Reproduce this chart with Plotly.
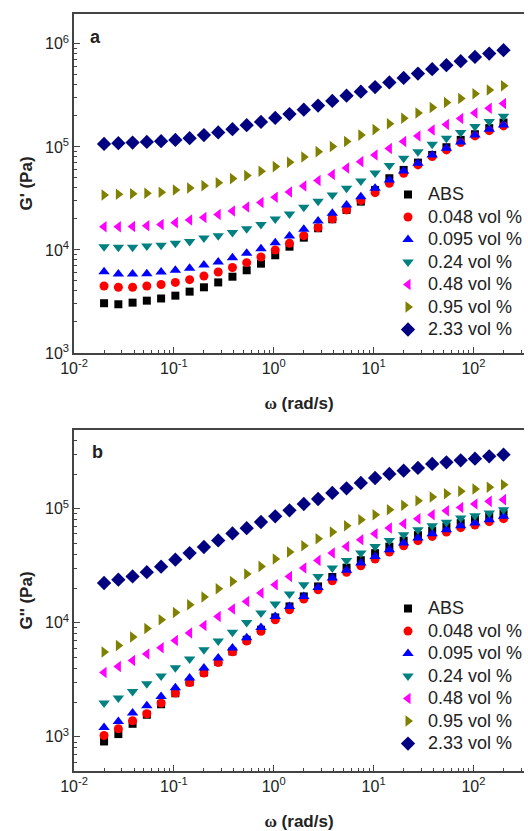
import plotly.graph_objects as go

omega = [0.02, 0.0278, 0.0386, 0.0536, 0.0745, 0.1035, 0.1438, 0.2, 0.278, 0.386,
         0.536, 0.745, 1.035, 1.438, 2.0, 2.78, 3.86, 5.36, 7.45, 10.35,
         14.38, 20.0, 27.8, 38.6, 53.6, 74.5, 103.5, 143.8, 200.0]

series_names = ["ABS", "0.048 vol %", "0.095 vol %", "0.24 vol %", "0.48 vol %", "0.95 vol %", "2.33 vol %"]

# Storage modulus G' (Pa)
g1_abs = [3040, 2970, 3080, 3220, 3380, 3600, 3940, 4340, 4840, 5500, 6350, 7360, 8880, 10760, 13160,
          16240, 19860, 24450, 29440, 38230, 49670, 59800, 70400, 83600, 99300, 117000, 132800, 152000, 172200]
g1_0048 = [4470, 4340, 4340, 4470, 4620, 4840, 5150, 5590, 6110, 6760, 7530, 8550, 10000, 11610, 13770,
           16460, 20000, 24450, 30260, 35980, 44430, 55560, 66860, 80500, 93500, 110100, 127900, 143900, 159900]
g1_0095 = [6150, 5850, 5850, 5890, 6110, 6350, 6640, 7150, 7650, 8400, 9290, 10290, 11770, 13670, 15880,
           19120, 22710, 27350, 32920, 39720, 47830, 58470, 69480, 83600, 97100, 111900, 130800, 148500, 163500]
g1_024 = [10760, 10620, 10620, 10930, 11110, 11610, 12090, 13080, 13740, 14790, 16100, 17690, 20000, 22370, 25980,
          29700, 34200, 39720, 46770, 55950, 66100, 77640, 90000, 106400, 121400, 137700, 157400, 176000, 198600]
g1_048 = [16830, 16830, 16900, 17180, 17690, 18410, 19550, 20680, 22120, 23910, 26160, 28920, 32490, 36560, 41800,
          47300, 54080, 62520, 71980, 83600, 96700, 112600, 127900, 146200, 165300, 189100, 213800, 237600, 264400]
g1_095 = [34200, 34740, 35130, 35520, 36310, 38230, 39990, 42090, 45000, 49250, 52650, 58070, 64400, 71030, 79980,
          90000, 100700, 113000, 130200, 147200, 168000, 190000, 213800, 241800, 270400, 295600, 328500, 357500, 392800]
g1_233 = [107000, 108600, 110100, 111800, 113600, 117000, 121700, 130200, 138300, 148500, 162400, 174900, 191200,
          208100, 229700, 251800, 279700, 314100, 343500, 380700, 422700, 467700, 515000, 567600, 621100, 679200,
          747800, 805000, 868500]

# Loss modulus G'' (Pa)
g2_abs = [910, 1056, 1300, 1560, 1928, 2408, 3006, 3665, 4547, 5600, 7096, 8683, 11130, 13900, 17010,
          20810, 25170, 30380, 35330, 40700, 46420, 52390, 58560, 64120, 69520, 74630, 80080, 85100, 90370]
g2_0048 = [1026, 1175, 1381, 1591, 1975, 2417, 2988, 3620, 4484, 5567, 6910, 8422, 10620, 13000, 16140,
           19480, 23360, 27730, 31620, 36220, 41690, 47350, 52390, 57150, 62460, 68130, 71940, 76910, 81690]
g2_0095 = [1206, 1362, 1614, 1870, 2257, 2692, 3273, 4005, 4900, 5998, 7385, 9095, 11360, 13900, 17010,
           20400, 24660, 28870, 33400, 38150, 43660, 50040, 55340, 60390, 65430, 70960, 74920, 80080, 85620]
g2_024 = [1975, 2185, 2497, 2917, 3407, 4030, 4813, 5796, 6910, 8255, 10060, 12160, 14590, 17850, 21540,
          25480, 30190, 35130, 40840, 46690, 52720, 59130, 65430, 70960, 75830, 82830, 86820, 91660, 98000]
g2_048 = [3665, 4138, 4670, 5315, 6036, 6993, 8121, 9450, 11360, 13190, 15380, 18220, 21540, 25480, 30190,
          35200, 40840, 46690, 53460, 60390, 67720, 73840, 81690, 88580, 96000, 102600, 109900, 115900, 120000]
g2_095 = [5534, 6320, 7490, 8913, 10620, 12310, 14380, 16800, 19880, 23030, 26750, 31190, 36220, 41690, 47350,
          54560, 62460, 70960, 80080, 88580, 98000, 106900, 117500, 126700, 135400, 141900, 148900, 153800, 162400]
g2_233 = [22300, 23850, 25480, 27730, 30980, 35700, 40840, 46130, 52720, 60610, 67450, 76440, 85620, 96670,
          109900, 121600, 137300, 150700, 168000, 185800, 201500, 215400, 227600, 246600, 254800, 265300,
          274500, 287700, 297700]

x_tickvals = [0.01, 0.1, 1, 10, 100]
x_ticktext = ["10<sup>-2</sup>", "10<sup>-1</sup>", "10<sup>0</sup>", "10<sup>1</sup>", "10<sup>2</sup>"]
y1_tickvals = [1e3, 1e4, 1e5, 1e6]
y1_ticktext = ["10<sup>3</sup>", "10<sup>4</sup>", "10<sup>5</sup>", "10<sup>6</sup>"]
y2_tickvals = [1e3, 1e4, 1e5]
y2_ticktext = ["10<sup>3</sup>", "10<sup>4</sup>", "10<sup>5</sup>"]

top_data = [g1_abs, g1_0048, g1_0095, g1_024, g1_048, g1_095, g1_233]
bot_data = [g2_abs, g2_0048, g2_0095, g2_024, g2_048, g2_095, g2_233]

colors = ["#000000", "#FF0000", "#0000FF", "#008080", "#FF00FF", "#808000", "#000080"]
symbols = ["square", "circle", "triangle-up", "triangle-down", "triangle-left", "triangle-right", "diamond"]
sizes = [8, 9, 10, 10, 10, 10, 11]

FONT = "Liberation Sans, Arial, sans-serif"


def legend_label(name):
    return "<span style='font-size:18px'>" + name + "</span>"


fig = go.Figure()
for name, ys, c, s, sz in zip(series_names, top_data, colors, symbols, sizes):
    fig.add_trace(go.Scatter(x=omega, y=ys, mode="markers", name=legend_label(name),
                             marker=dict(color=c, symbol=s, size=sz, line=dict(width=0)),
                             xaxis="x", yaxis="y", legend="legend"))
for name, ys, c, s, sz in zip(series_names, bot_data, colors, symbols, sizes):
    fig.add_trace(go.Scatter(x=omega, y=ys, mode="markers", name=legend_label(name),
                             marker=dict(color=c, symbol=s, size=sz, line=dict(width=0)),
                             xaxis="x2", yaxis="y2", legend="legend2"))

minor_vals = [m * 10.0 ** e for e in range(-3, 7) for m in range(2, 10)]

axcol = "#444444"
minor = dict(ticks="inside", ticklen=3, tickwidth=1, tickcolor=axcol, tickmode="array", tickvals=minor_vals)
common_x = dict(type="log", range=[-2, 2.506], tickmode="array", tickvals=x_tickvals, ticktext=x_ticktext,
                showline=True, linecolor=axcol, linewidth=1.5, mirror=True,
                ticks="inside", ticklen=6, tickwidth=1.2, tickcolor=axcol,
                minor=minor,
                showgrid=False, zeroline=False,
                tickfont=dict(family=FONT, size=16, color="#222"),
                title=dict(text="<b><span style='font-family:Liberation Serif'>ω</span> (rad/s)</b>",
                           font=dict(family=FONT, size=17, color="#222"), standoff=21))
common_y = dict(type="log", tickmode="array",
                showline=True, linecolor=axcol, linewidth=1.5, mirror=False,
                ticks="inside", ticklen=6, tickwidth=1.2, tickcolor=axcol,
                minor=minor,
                showgrid=False, zeroline=False,
                tickfont=dict(family=FONT, size=16, color="#222"))

legend_common = dict(xanchor="left", yanchor="top", bgcolor="rgba(0,0,0,0)",
                     font=dict(family=FONT, size=15, color="#222"), tracegroupgap=0, itemwidth=30)

fig.update_layout(
    width=528, height=831,
    margin=dict(l=74, r=0, t=14, b=60),
    paper_bgcolor="white", plot_bgcolor="white",
    font=dict(family=FONT, size=16, color="#222"),
    xaxis=dict(common_x, domain=[0, 1], anchor="y"),
    yaxis=dict(common_y, domain=[0.5522, 1], range=[3, 6.29], anchor="x",
               tickvals=y1_tickvals, ticktext=y1_ticktext,
               title=dict(text="<b>G' (Pa)</b>", font=dict(family=FONT, size=17, color="#222"), standoff=8)),
    xaxis2=dict(common_x, domain=[0, 1], anchor="y2"),
    yaxis2=dict(common_y, domain=[0, 0.4505], range=[2.70, 5.69], anchor="x2",
                tickvals=y2_tickvals, ticktext=y2_ticktext,
                title=dict(text="<b>G'' (Pa)</b>", font=dict(family=FONT, size=17, color="#222"), standoff=8)),
    legend=dict(legend_common, x=0.698, y=0.783),
    legend2=dict(legend_common, x=0.698, y=0.2360),
    showlegend=True,
    annotations=[
        dict(text="<b>a</b>", x=0.0485, y=0.9696, xref="paper", yref="paper", showarrow=False,
             font=dict(family=FONT, size=18, color="#222"), xanchor="center", yanchor="middle"),
        dict(text="<b>b</b>", x=0.053, y=0.4214, xref="paper", yref="paper", showarrow=False,
             font=dict(family=FONT, size=18, color="#222"), xanchor="center", yanchor="middle"),
    ],
)

fig.write_html("out.html", config={"displayModeBar": False},
               post_script="document.body.style.margin='0px';document.body.style.overflow='hidden';")
